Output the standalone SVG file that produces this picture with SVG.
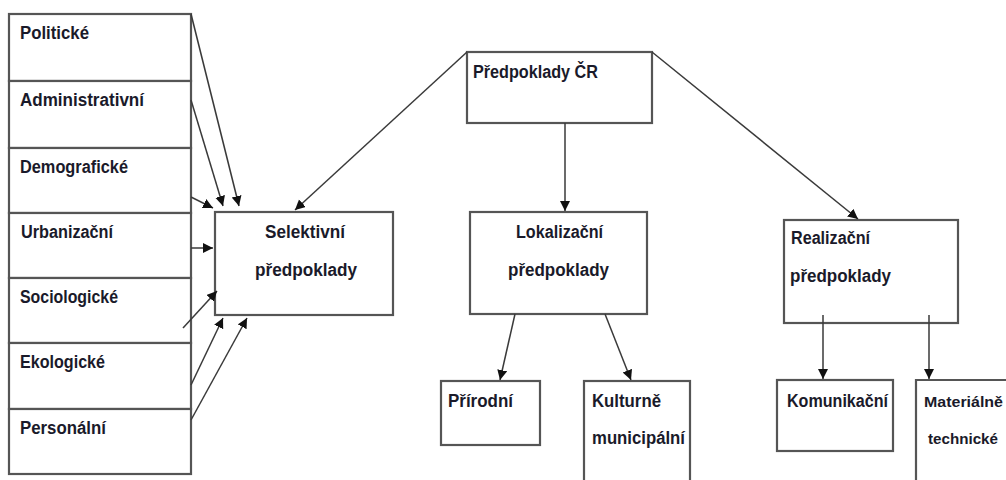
<svg xmlns="http://www.w3.org/2000/svg" width="1006" height="480" viewBox="0 0 1006 480">
<style>
.box{fill:#fff;stroke:#555;stroke-width:2.2}
.t{font-family:"Liberation Sans","DejaVu Sans",sans-serif;font-size:17.5px;font-weight:bold;fill:#1a1a2a}
.s{font-size:15px}
.c{fill:none;stroke:#3a3a3a;stroke-width:1.5}
</style>
<defs>
<marker id="ah" markerUnits="userSpaceOnUse" markerWidth="12" markerHeight="12" refX="10" refY="5" orient="auto">
<path d="M0,0 L10,5 L0,10 Z" fill="#111"/>
</marker>
</defs>
<rect width="1006" height="480" fill="#fff"/>
<g id="politicke"><rect class="box" x="9" y="14" width="182" height="67"/><text class="t" x="20" y="39" textLength="69" lengthAdjust="spacingAndGlyphs">Politické</text></g>
<g id="administrativni"><rect class="box" x="9" y="81" width="182" height="67"/><text class="t" x="20" y="106" textLength="124" lengthAdjust="spacingAndGlyphs">Administrativní</text></g>
<g id="demograficke"><rect class="box" x="9" y="148" width="182" height="65"/><text class="t" x="20" y="173" textLength="108" lengthAdjust="spacingAndGlyphs">Demografické</text></g>
<g id="urbanizacni"><rect class="box" x="9" y="213" width="182" height="65"/><text class="t" x="21" y="238" textLength="92" lengthAdjust="spacingAndGlyphs">Urbanizační</text></g>
<g id="sociologicke"><rect class="box" x="9" y="278" width="182" height="65"/><text class="t" x="20" y="303" textLength="98" lengthAdjust="spacingAndGlyphs">Sociologické</text></g>
<g id="ekologicke"><rect class="box" x="9" y="343" width="182" height="66"/><text class="t" x="20" y="368" textLength="85" lengthAdjust="spacingAndGlyphs">Ekologické</text></g>
<g id="personalni"><rect class="box" x="9" y="409" width="182" height="65"/><text class="t" x="20" y="434" textLength="86" lengthAdjust="spacingAndGlyphs">Personální</text></g>
<g id="selektivni"><rect class="box" x="215" y="212" width="178" height="103"/><text class="t" x="265" y="238" textLength="80" lengthAdjust="spacingAndGlyphs">Selektivní</text><text class="t" x="255" y="276" textLength="102" lengthAdjust="spacingAndGlyphs">předpoklady</text></g>
<g id="predpoklady-cr"><rect class="box" x="467" y="52" width="185" height="71"/><text class="t" x="473" y="78" textLength="125" lengthAdjust="spacingAndGlyphs">Předpoklady ČR</text></g>
<g id="lokalizacni"><rect class="box" x="470" y="212" width="177" height="102"/><text class="t" x="516" y="238" textLength="87" lengthAdjust="spacingAndGlyphs">Lokalizační</text><text class="t" x="508" y="276" textLength="101" lengthAdjust="spacingAndGlyphs">předpoklady</text></g>
<g id="realizacni"><rect class="box" x="784" y="220" width="174" height="103"/><text class="t" x="791" y="244" textLength="79" lengthAdjust="spacingAndGlyphs">Realizační</text><text class="t" x="790" y="282" textLength="101" lengthAdjust="spacingAndGlyphs">předpoklady</text></g>
<g id="prirodni"><rect class="box" x="441" y="381" width="99" height="64"/><text class="t" x="448" y="407" textLength="65" lengthAdjust="spacingAndGlyphs">Přírodní</text></g>
<g id="kulturne"><rect class="box" x="584" y="381" width="106" height="110"/><text class="t" x="592" y="407" textLength="69" lengthAdjust="spacingAndGlyphs">Kulturně</text><text class="t" x="592" y="444" textLength="93" lengthAdjust="spacingAndGlyphs">municipální</text></g>
<g id="komunikacni"><rect class="box" x="777" y="380" width="116" height="71"/><text class="t" x="787" y="407" textLength="101" lengthAdjust="spacingAndGlyphs">Komunikační</text></g>
<g id="materialne"><path class="box" d="M1007,380 H916 V481"/><text class="t s" x="924" y="407" textLength="79" lengthAdjust="spacingAndGlyphs">Materiálně</text><text class="t s" x="928" y="444" textLength="70" lengthAdjust="spacingAndGlyphs">technické</text></g>
<g id="connectors">
<line class="c" x1="191" y1="14" x2="239" y2="206" marker-end="url(#ah)"/>
<line class="c" x1="191" y1="100" x2="223" y2="206" marker-end="url(#ah)"/>
<line class="c" x1="191" y1="197" x2="213" y2="208" marker-end="url(#ah)"/>
<line class="c" x1="191" y1="248" x2="213" y2="248" marker-end="url(#ah)"/>
<line class="c" x1="183" y1="328" x2="217" y2="291" marker-end="url(#ah)"/>
<line class="c" x1="191" y1="385" x2="223" y2="318" marker-end="url(#ah)"/>
<line class="c" x1="191" y1="420" x2="247" y2="318" marker-end="url(#ah)"/>
<line class="c" x1="467" y1="52" x2="295" y2="210" marker-end="url(#ah)"/>
<line class="c" x1="565" y1="123" x2="565" y2="211" marker-end="url(#ah)"/>
<line class="c" x1="652" y1="52" x2="858" y2="219" marker-end="url(#ah)"/>
<line class="c" x1="515" y1="314" x2="500" y2="380" marker-end="url(#ah)"/>
<line class="c" x1="605" y1="314" x2="631" y2="380" marker-end="url(#ah)"/>
<line class="c" x1="823" y1="315" x2="823" y2="379" marker-end="url(#ah)"/>
<line class="c" x1="929" y1="315" x2="929" y2="379" marker-end="url(#ah)"/>
</g>
</svg>
